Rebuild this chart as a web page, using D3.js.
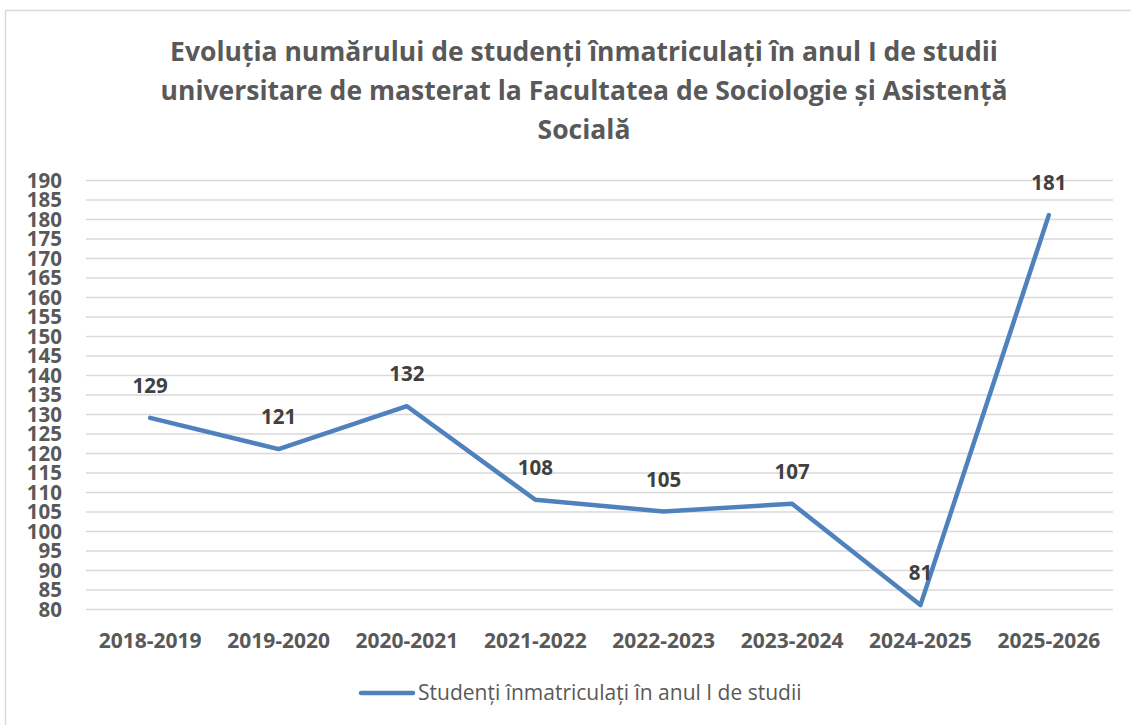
<!DOCTYPE html>
<html>
<head>
<meta charset="utf-8">
<script src="https://cdn.jsdelivr.net/npm/d3@7"></script>
<style>
  body { margin: 0; background: #fff; }
  svg text { font-family: "Open Sans", "Liberation Sans", sans-serif; fill: #595959; }
</style>
</head>
<body>
<div id="chart"></div>
<script>
var title_lines = [
  "Evoluția numărului de studenți înmatriculați în anul I de studii",
  "universitare de masterat la Facultatea de Sociologie și Asistență",
  "Socială"
];
var years  = ["2018-2019", "2019-2020", "2020-2021", "2021-2022", "2022-2023", "2023-2024", "2024-2025", "2025-2026"];
var values = [129, 121, 132, 108, 105, 107, 81, 181];
var y_ticks = d3.range(80, 191, 5);
var series_name = "Studenți înmatriculați în anul I de studii";

var W = 1131, H = 725;
var plot = { left: 86, right: 1113, top: 180, bottom: 609 };
var line_color = "#4f81bd";

var svg = d3.select("#chart").append("svg")
  .attr("width", W)
  .attr("height", H);

// outer chart frame
svg.append("path")
  .attr("d", "M5.5," + H + "V10.5H" + W)
  .style("fill", "none")
  .style("stroke", "#d9d9d9")
  .style("stroke-width", 1.5);

svg.append("g").selectAll("text")
  .data(title_lines)
  .enter().append("text")
  .attr("x", 584)
  .attr("y", function(d, i) { return 61 + i * 39; })
  .attr("text-anchor", "middle")
  .style("font-size", "26.5px")
  .style("font-weight", "bold")
  .text(function(d) { return d; });

var x = d3.scaleBand().domain(years).range([plot.left, plot.right]).padding(0);
var y = d3.scaleLinear().domain([80, 190]).range([plot.bottom, plot.top]);

// gridlines
svg.append("g")
  .attr("transform", "translate(" + plot.left + ",0)")
  .call(d3.axisLeft(y).tickValues(y_ticks).tickSize(-(plot.right - plot.left)).tickFormat(""))
  .call(function(g) {
    g.select(".domain").remove();
    g.selectAll(".tick line").style("stroke", "#d9d9d9").style("stroke-width", 1.5);
  });

// y tick labels
svg.append("g")
  .attr("transform", "translate(62,0)")
  .call(d3.axisLeft(y).tickValues(y_ticks).tickSize(0).tickPadding(0))
  .call(function(g) {
    g.select(".domain").remove();
    g.selectAll(".tick text")
      .attr("dy", "0.36em")
      .style("font-size", "20.5px")
      .style("font-weight", "bold")
      .style("fill", "#595959");
  });

// x labels
svg.append("g")
  .attr("transform", "translate(0," + plot.bottom + ")")
  .call(d3.axisBottom(x).tickSize(0).tickPadding(24))
  .call(function(g) {
    g.select(".domain").remove();
    g.selectAll(".tick text")
      .style("font-size", "21px")
      .style("font-weight", "bold")
      .style("fill", "#595959");
  });

var cx = function(d, i) { return x(years[i]) + x.bandwidth() / 2; };

svg.append("path")
  .datum(values)
  .attr("d", d3.line().x(cx).y(function(d) { return y(d); }))
  .style("fill", "none")
  .style("stroke", line_color)
  .style("stroke-width", 4.5)
  .style("stroke-linecap", "round")
  .style("stroke-linejoin", "round");

svg.append("g").selectAll("text")
  .data(values)
  .enter().append("text")
  .attr("x", cx)
  .attr("y", function(d) { return y(d) - 25; })
  .attr("text-anchor", "middle")
  .style("font-size", "20.5px")
  .style("font-weight", "bold")
  .style("fill", "#404040")
  .text(function(d) { return d; });

// legend
var legend = svg.append("g");
legend.append("line")
  .attr("x1", 361).attr("x2", 413)
  .attr("y1", 693).attr("y2", 693)
  .style("stroke", line_color)
  .style("stroke-width", 4.5)
  .style("stroke-linecap", "round");
legend.append("text")
  .attr("x", 418)
  .attr("y", 700)
  .style("font-size", "21px")
  .text(series_name);
</script>
</body>
</html>
